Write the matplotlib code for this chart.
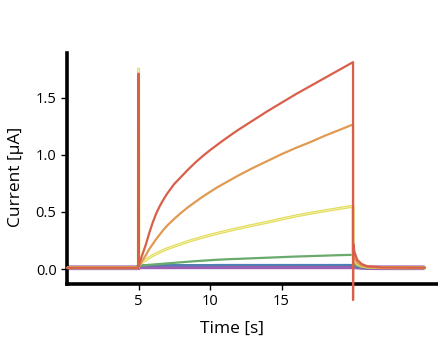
import matplotlib
matplotlib.use("Agg")
import matplotlib.pyplot as plt

plt.rcParams['font.family'] = ['Open Sans', 'DejaVu Sans']

# time grid [s]
time = [0.0, 4.99, 5.0, 5.02, 5.1, 5.25, 5.5, 5.75, 6.0, 6.25, 6.5, 6.75, 7.0, 7.5, 8.0,
        8.5, 9.0, 9.5, 10.0, 10.5, 11.0, 11.5, 12.0, 13.0, 14.0, 15.0, 16.0, 17.0, 18.0,
        19.0, 20.0, 20.0, 20.02, 20.1, 20.3, 20.6, 21.0, 22.0, 25.0]

# currents [uA]
purple = [0.012, 0.012, 0.02, 0.02, 0.02, 0.02, 0.02, 0.02, 0.02, 0.02, 0.02, 0.02, 0.02,
          0.02, 0.02, 0.02, 0.02, 0.02, 0.02, 0.02, 0.02, 0.02, 0.02, 0.02, 0.02, 0.02,
          0.02, 0.02, 0.02, 0.02, 0.02, 0.02, 0.02, 0.02, 0.018, 0.015, 0.013, 0.012, 0.012]
blue = [0.012, 0.012, 0.03, 0.03, 0.031, 0.032, 0.033, 0.033, 0.034, 0.034, 0.034, 0.035,
        0.035, 0.035, 0.035, 0.035, 0.035, 0.035, 0.035, 0.036, 0.036, 0.036, 0.036, 0.036,
        0.036, 0.036, 0.036, 0.036, 0.036, 0.036, 0.036, 0.036, 0.033, 0.028, 0.02, 0.015,
        0.013, 0.012, 0.012]
green = [0.012, 0.012, 0.03, 0.03, 0.03, 0.032, 0.035, 0.038, 0.04, 0.043, 0.045, 0.048,
         0.05, 0.055, 0.06, 0.065, 0.07, 0.074, 0.078, 0.082, 0.085, 0.088, 0.09, 0.095,
         0.10, 0.105, 0.11, 0.114, 0.118, 0.122, 0.125, 0.06, 0.055, 0.045, 0.03, 0.02,
         0.015, 0.012, 0.012]
yellow = [0.012, 0.012, 1.75, 0.04, 0.045, 0.06, 0.08, 0.10, 0.12, 0.135, 0.15, 0.165,
          0.178, 0.20, 0.222, 0.243, 0.262, 0.28, 0.297, 0.313, 0.328, 0.343, 0.357, 0.384,
          0.41, 0.438, 0.465, 0.488, 0.51, 0.53, 0.55, 0.12, 0.11, 0.08, 0.045, 0.027,
          0.018, 0.013, 0.012]
orange = [0.012, 0.012, 0.04, 0.04, 0.04, 0.07, 0.12, 0.175, 0.22, 0.265, 0.305, 0.345,
          0.38, 0.44, 0.495, 0.545, 0.59, 0.635, 0.675, 0.715, 0.75, 0.785, 0.82, 0.885,
          0.945, 1.005, 1.06, 1.11, 1.165, 1.215, 1.265, 0.16, 0.14, 0.10, 0.055, 0.03,
          0.02, 0.013, 0.012]
red = [0.012, 0.012, 1.71, 0.03, 0.065, 0.12, 0.21, 0.315, 0.41, 0.49, 0.555, 0.61, 0.66,
       0.745, 0.81, 0.875, 0.935, 0.99, 1.04, 1.087, 1.133, 1.177, 1.22, 1.30, 1.38, 1.455,
       1.53, 1.60, 1.67, 1.74, 1.81, -0.27, 0.22, 0.15, 0.08, 0.045, 0.025, 0.015, 0.013]

xticks = [5, 10, 15]
yticks = [0.0, 0.5, 1.0, 1.5]

fig = plt.figure(figsize=(4.38, 3.45), dpi=100)
ax = fig.add_axes([67/438, 61/345, 371/438, 231/345])

ax.plot(time, purple, color='#9b5fb3', lw=3.4, solid_capstyle='butt', zorder=2)
ax.plot(time, blue, color='#4f7fb2', lw=1.6, zorder=3)
ax.plot(time, green, color='#6aaa6c', lw=1.6, zorder=4)
ax.plot(time, yellow, color='#e2dc5a', lw=2.2, zorder=5)
ax.plot(time, yellow, color='#f6f3b8', lw=0.6, zorder=5.1)
ax.plot(time, orange, color='#e09a52', lw=1.6, zorder=6)
ax.plot(time, red, color='#d8604a', lw=1.6, zorder=7, clip_on=False)

ax.set_xlim(0, 25.94)
ax.set_ylim(-0.13, 1.89)
ax.set_xticks(xticks)
ax.set_xticklabels([str(t) for t in xticks])
ax.set_yticks(yticks)
ax.set_yticklabels([f"{v:.1f}" for v in yticks])

for side in ['top', 'right']:
    ax.spines[side].set_visible(False)
for side in ['left', 'bottom']:
    ax.spines[side].set_linewidth(2.6)
    ax.spines[side].set_color('black')

ax.tick_params(axis='both', direction='out', length=4, width=1, labelsize=10.5,
               pad=3.5, colors='black')

ax.set_xlabel('Time [s]', fontsize=12.5)
ax.set_ylabel('Current [μA]', fontsize=12.5)
ax.xaxis.set_label_coords(0.445, -0.16)
ax.yaxis.set_label_coords(-0.115, 0.463)

fig.savefig('out.png', dpi=100)
